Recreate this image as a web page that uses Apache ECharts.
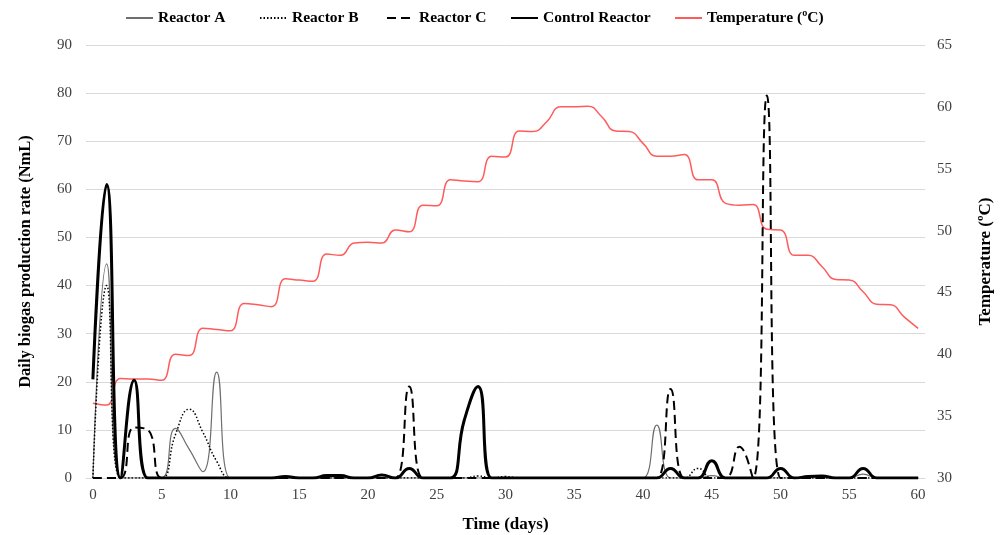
<!DOCTYPE html>
<html>
<head>
<meta charset="utf-8">
<script src="https://cdn.jsdelivr.net/npm/echarts@6/dist/echarts.min.js"></script>
<style>html,body{margin:0;padding:0;background:#fff}#c{width:1002px;height:535px}</style>
</head>
<body>
<div id="c"></div>
<script>
const days = [0,1,2,3,4,5,6,7,8,9,10,11,12,13,14,15,16,17,18,19,20,21,22,23,24,25,26,27,28,29,30,31,32,33,34,35,36,37,38,39,40,41,42,43,44,45,46,47,48,49,50,51,52,53,54,55,56,57,58,59,60];
const xTicks = [0,5,10,15,20,25,30,35,40,45,50,55,60];
const seriesNames = ['Reactor A', 'Reactor B', 'Reactor C', 'Control Reactor', 'Temperature (ºC)'];
const reactorA = [0,44.5,0,0,0,0,10.3,6,1.3,22,0,0,0,0,0,0,0,0,0,0,0,0,0,0,0,0,0,0,0,0,0,0,0,0,0,0,0,0,0,0,0,11,0,0,0,0.5,0,0,0,0,0,0,0,0,0,0,0.8,0,0,0,0];
const reactorB = [0,40,0,0,0,0,9,14.3,9.5,3.5,0,0,0,0,0,0,0,0,0,0,0,0,0,0,0,0,0,0,0.4,0,0.3,0,0,0,0,0,0,0,0,0,0,0,0,0,2,0,0,0,0,0,0,0,0,0,0,0,0,0,0,0,0];
const reactorC = [0,0,0,10.5,10,0,0,0,0,0,0,0,0,0,0,0,0,0,0,0,0,0,0,19,0,0,0,0,0,0,0,0,0,0,0,0,0,0,0,0,0,0,18.5,0,0,0,0,6.5,0,79.5,0,0,0,0,0,0,0,0,0,0,0];
const control = [20.5,61,0,20.3,0,0,0,0,0,0,0,0,0,0,0.3,0,0,0.5,0.5,0,0,0.6,0,2,0,0,0,12,19,0,0,0,0,0,0,0,0,0,0,0,0,0,2,0,0,3.6,0,0,0,0,2,0,0.3,0.4,0,0,2,0,0,0,0];
const temperature = [36.05,35.9,38.05,38,38,37.9,40,39.9,42.1,42,41.9,44.1,44,43.85,46.1,46,45.9,48.1,48,49,49.05,49,50.05,49.9,52.05,52,54.1,54,53.95,56,55.95,58.05,58,58.8,60,60,60.05,59.2,58.05,58,57.05,56,56,56.15,54.1,54.1,52.2,52.05,52.1,50.1,50.05,48,48,47.1,46.05,46,45.05,44.05,44,43,42.1];

const pairs = v => days.map((d, i) => [d, v[i]]);
const font = 'Liberation Serif';
const legendLefts = [120, 254, 381, 505, 669];
const legends = seriesNames.map((n, i) => ({
  top: 5, left: legendLefts[i], itemWidth: 27, itemHeight: 10,
  itemStyle: { opacity: 0 },
  textStyle: { fontFamily: font, fontWeight: 'bold', fontSize: 15.5, color: '#000' },
  data: [n]
}));
const chart = echarts.init(document.getElementById('c'));
chart.setOption({
  animation: false,
  textStyle: { fontFamily: font },
  legend: legends,
  grid: { left: 86, right: 77, top: 45, bottom: 57, outerBoundsMode: 'none' },
  xAxis: {
    type: 'value', min: -0.5, max: 60.5,
    name: 'Time (days)', nameLocation: 'middle', nameGap: 38,
    nameTextStyle: { fontFamily: font, fontWeight: 'bold', fontSize: 17, color: '#000' },
    axisLine: { show: true, lineStyle: { color: '#d9d9d9' } },
    axisTick: { show: false },
    splitLine: { show: false },
    axisLabel: { customValues: xTicks, fontFamily: font, fontSize: 15, color: '#404040', margin: 10 }
  },
  yAxis: [{
    type: 'value', min: 0, max: 90, interval: 10,
    name: 'Daily biogas production rate (NmL)', nameLocation: 'middle', nameGap: 52, nameRotate: 90,
    nameTextStyle: { fontFamily: font, fontWeight: 'bold', fontSize: 16.5, color: '#000' },
    axisLine: { show: false }, axisTick: { show: false },
    splitLine: { lineStyle: { color: '#d9d9d9', width: 1 } },
    axisLabel: { fontFamily: font, fontSize: 15, color: '#404040', margin: 14 }
  }, {
    type: 'value', min: 30, max: 65, interval: 5, position: 'right',
    name: 'Temperature (ºC)', nameLocation: 'middle', nameGap: 52, nameRotate: 90,
    nameTextStyle: { fontFamily: font, fontWeight: 'bold', fontSize: 17, color: '#000' },
    axisLine: { show: false }, axisTick: { show: false },
    splitLine: { show: false },
    axisLabel: { fontFamily: font, fontSize: 15, color: '#404040', margin: 12 }
  }],
  series: [
    { name: seriesNames[0], type: 'line', data: pairs(reactorA), smooth: 0.5, symbol: 'none', z: 3,
      lineStyle: { color: '#6e6e6e', width: 1.2 }, itemStyle: { color: '#6e6e6e' } },
    { name: seriesNames[1], type: 'line', data: pairs(reactorB), smooth: 0.5, symbol: 'none', z: 3,
      lineStyle: { color: '#000', width: 1.5, type: [1.5, 2] }, itemStyle: { color: '#000' } },
    { name: seriesNames[2], type: 'line', data: pairs(reactorC), smooth: 0.5, symbol: 'none', z: 3,
      lineStyle: { color: '#000', width: 2, type: [9, 5] }, itemStyle: { color: '#000' } },
    { name: seriesNames[3], type: 'line', data: pairs(control), smooth: 0.5, symbol: 'none', z: 4,
      lineStyle: { color: '#000', width: 3 }, itemStyle: { color: '#000' } },
    { name: seriesNames[4], type: 'line', yAxisIndex: 1, data: pairs(temperature), smooth: 0.5, symbol: 'none', z: 2,
      lineStyle: { color: '#ff5b5b', width: 1.5 }, itemStyle: { color: '#ff5b5b' } }
  ]
});
</script>
</body>
</html>
